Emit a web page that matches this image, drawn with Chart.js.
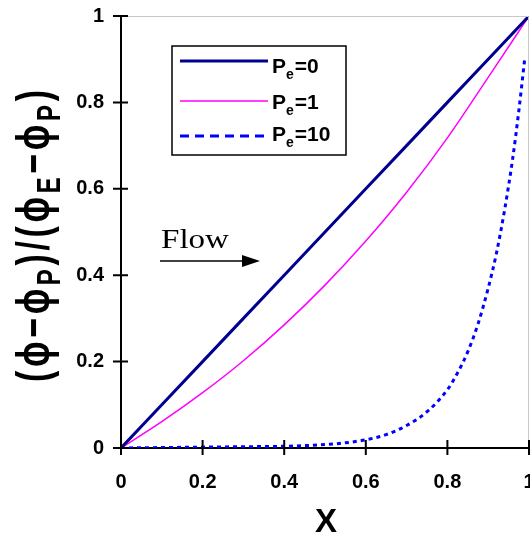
<!DOCTYPE html>
<html>
<head>
<meta charset="utf-8">
<script src="https://cdn.jsdelivr.net/npm/chart.js@4.4.1/dist/chart.umd.min.js"></script>
<style>
  html, body { margin: 0; padding: 0; background: #fff; }
  #wrap { width: 530px; height: 538px; }
</style>
</head>
<body>
<div id="wrap"><canvas id="chart"></canvas></div>
<script>
// values
const xLin = [0, 0.1, 0.2, 0.3, 0.4, 0.5, 0.6, 0.7, 0.8, 0.9, 1];
const pe0 = [0, 0.1, 0.2, 0.3, 0.4, 0.5, 0.6, 0.7, 0.8, 0.9, 1];
const pe1 = [0, 0.061, 0.128, 0.202, 0.285, 0.377, 0.479, 0.592, 0.718, 0.858, 1];
const xPe10 = [0, 0.1, 0.2, 0.3, 0.4, 0.5, 0.55, 0.6, 0.65, 0.7, 0.75, 0.8, 0.825, 0.85, 0.875, 0.9, 0.92, 0.94, 0.96, 0.975, 0.99];
const pe10 = [0, 0.001, 0.002, 0.003, 0.004, 0.008, 0.012, 0.019, 0.031, 0.052, 0.084, 0.135, 0.174, 0.223, 0.287, 0.37, 0.45, 0.55, 0.67, 0.78, 0.905];
const xTickLabels = ['0', '0.2', '0.4', '0.6', '0.8', '1'];
const yTickLabels = ['0', '0.2', '0.4', '0.6', '0.8', '1'];
const seriesNames = ['0', '1', '10'];

const navy = '#000090';
const magenta = '#ff00ff';
const blue = '#0000ff';

function pts(xs, ys) {
    return xs.map((x, i) => ({ x: x, y: ys[i] }));
}

const tickFont = { family: 'Liberation Sans, Arial, sans-serif', size: 20, weight: 'bold' };

// ticks crossing the axes, frame, legend, flow arrow and axis titles
const extras = {
    id: 'extras',
    afterDatasetsDraw(chart) {
        const ctx = chart.ctx;
        const a = chart.chartArea;
        const xs = chart.scales.x, ys = chart.scales.y;
        ctx.save();

        // light frame top / right
        ctx.strokeStyle = '#c8c8c8';
        ctx.lineWidth = 1;
        ctx.beginPath();
        ctx.moveTo(a.left, a.top + 0.5);
        ctx.lineTo(a.right - 0.5, a.top + 0.5);
        ctx.lineTo(a.right - 0.5, a.bottom);
        ctx.stroke();

        // cross ticks
        ctx.strokeStyle = '#000';
        ctx.lineWidth = 2;
        ctx.beginPath();
        xs.ticks.forEach(t => {
            const px = xs.getPixelForValue(t.value);
            ctx.moveTo(px, a.bottom - 8);
            ctx.lineTo(px, a.bottom + 7);
        });
        ys.ticks.forEach(t => {
            const py = ys.getPixelForValue(t.value);
            ctx.moveTo(a.left - 8, py);
            ctx.lineTo(a.left + 7, py);
        });
        ctx.stroke();

        // legend
        ctx.fillStyle = '#fff';
        ctx.fillRect(172, 46, 174, 109);
        ctx.strokeStyle = '#000';
        ctx.lineWidth = 1.5;
        ctx.strokeRect(172, 46, 174, 109);
        const rowsY = [61, 101, 136];
        const baseY = [73, 109, 141];
        chart.data.datasets.forEach((ds, i) => {
            ctx.save();
            ctx.strokeStyle = ds.borderColor;
            ctx.lineWidth = ds.borderWidth;
            ctx.setLineDash(ds.borderDash ? [9, 6] : []);
            ctx.beginPath();
            ctx.moveTo(180, rowsY[i]);
            ctx.lineTo(268, rowsY[i]);
            ctx.stroke();
            ctx.restore();
            ctx.fillStyle = '#000';
            ctx.textBaseline = 'alphabetic';
            ctx.textAlign = 'left';
            let x = 272;
            ctx.font = 'bold 21px "Liberation Sans", Arial, sans-serif';
            ctx.fillText('P', x, baseY[i]);
            x += ctx.measureText('P').width;
            ctx.font = 'bold 14px "Liberation Sans", Arial, sans-serif';
            ctx.fillText('e', x, baseY[i] + 6);
            x += ctx.measureText('e').width + 1;
            ctx.font = 'bold 21px "Liberation Sans", Arial, sans-serif';
            ctx.fillText('=' + seriesNames[i], x, baseY[i]);
        });

        // Flow arrow
        ctx.save();
        ctx.font = '27px "Liberation Serif", "Times New Roman", serif';
        const fw = ctx.measureText('Flow').width;
        ctx.translate(161, 248);
        ctx.scale(68 / fw, 1);
        ctx.fillStyle = '#000';
        ctx.textBaseline = 'alphabetic';
        ctx.fillText('Flow', 0, 0);
        ctx.restore();
        ctx.strokeStyle = '#000';
        ctx.lineWidth = 1.5;
        ctx.beginPath();
        ctx.moveTo(160, 261);
        ctx.lineTo(246, 261);
        ctx.stroke();
        ctx.fillStyle = '#000';
        ctx.beginPath();
        ctx.moveTo(260, 261);
        ctx.lineTo(242, 255);
        ctx.lineTo(242, 267);
        ctx.closePath();
        ctx.fill();

        // x title
        ctx.font = 'bold 33px "Liberation Sans", Arial, sans-serif';
        ctx.textAlign = 'center';
        ctx.textBaseline = 'alphabetic';
        ctx.fillText('X', 326, 532);

        // y title, rotated, with subscripts
        const parts = [
            ['(', 0], ['\u03D5', 0], ['\u2212', 0], ['\u03D5', 0], ['P', 1], [')', 0], ['/', 0],
            ['(', 0], ['\u03D5', 0], ['E', 1], ['\u2212', 0], ['\u03D5', 0], ['P', 1], [')', 0]
        ];
        const mainF = 'bold 34px "Liberation Sans", "DejaVu Sans", sans-serif';
        const subF = 'bold 24px "Liberation Sans", "DejaVu Sans", sans-serif';
        let total = 0;
        const widths = parts.map(p => {
            ctx.font = p[1] ? subF : mainF;
            const w = ctx.measureText(p[0]).width;
            total += w;
            return w;
        });
        const len = 292;
        const gap = (len - total) / (parts.length - 1);
        ctx.save();
        ctx.translate(48.5, 382);
        ctx.rotate(-Math.PI / 2);
        ctx.scale(1, 1.35);
        ctx.textAlign = 'left';
        let pos = 0;
        parts.forEach((p, i) => {
            ctx.font = p[1] ? subF : mainF;
            ctx.fillText(p[0], pos, p[1] ? 8.5 : 0);
            pos += widths[i] + gap;
        });
        ctx.restore();

        ctx.restore();
    }
};

const cfg = {
    type: 'line',
    data: {
        datasets: [{
            label: 'Pe=0',
            data: pts(xLin, pe0),
            borderColor: navy,
            borderWidth: 3,
            pointRadius: 0,
            tension: 0
        }, {
            label: 'Pe=1',
            data: pts(xLin, pe1),
            borderColor: magenta,
            borderWidth: 1.5,
            pointRadius: 0,
            cubicInterpolationMode: 'monotone'
        }, {
            label: 'Pe=10',
            data: pts(xPe10, pe10),
            borderColor: blue,
            borderWidth: 3,
            borderDash: [4, 4],
            pointRadius: 0,
            cubicInterpolationMode: 'monotone'
        }]
    },
    options: {
        responsive: true,
        maintainAspectRatio: false,
        animation: false,
        layout: { padding: { top: 16, right: 1, left: 0, bottom: 0 } },
        plugins: {
            legend: { display: false },
            tooltip: { enabled: false }
        },
        scales: {
            x: {
                type: 'linear',
                min: 0,
                max: 1,
                grid: { display: false, drawTicks: false },
                border: { display: true, color: '#000', width: 2 },
                ticks: {
                    stepSize: 0.2,
                    padding: 22,
                    color: '#000',
                    font: tickFont,
                    maxRotation: 0,
                    callback: (v, i) => xTickLabels[i]
                },
                afterFit: s => { s.height = 90; s.paddingLeft = 0; s.paddingRight = 0; }
            },
            y: {
                min: 0,
                max: 1,
                grid: { display: false, drawTicks: false },
                border: { display: true, color: '#000', width: 2 },
                ticks: {
                    stepSize: 0.2,
                    padding: 17,
                    color: '#000',
                    font: tickFont,
                    callback: (v, i) => yTickLabels[i]
                },
                afterFit: s => { s.width = 121; s.paddingTop = 0; s.paddingBottom = 0; }
            }
        }
    },
    plugins: [extras]
};

new Chart(document.getElementById('chart'), cfg);
</script>
</body>
</html>
